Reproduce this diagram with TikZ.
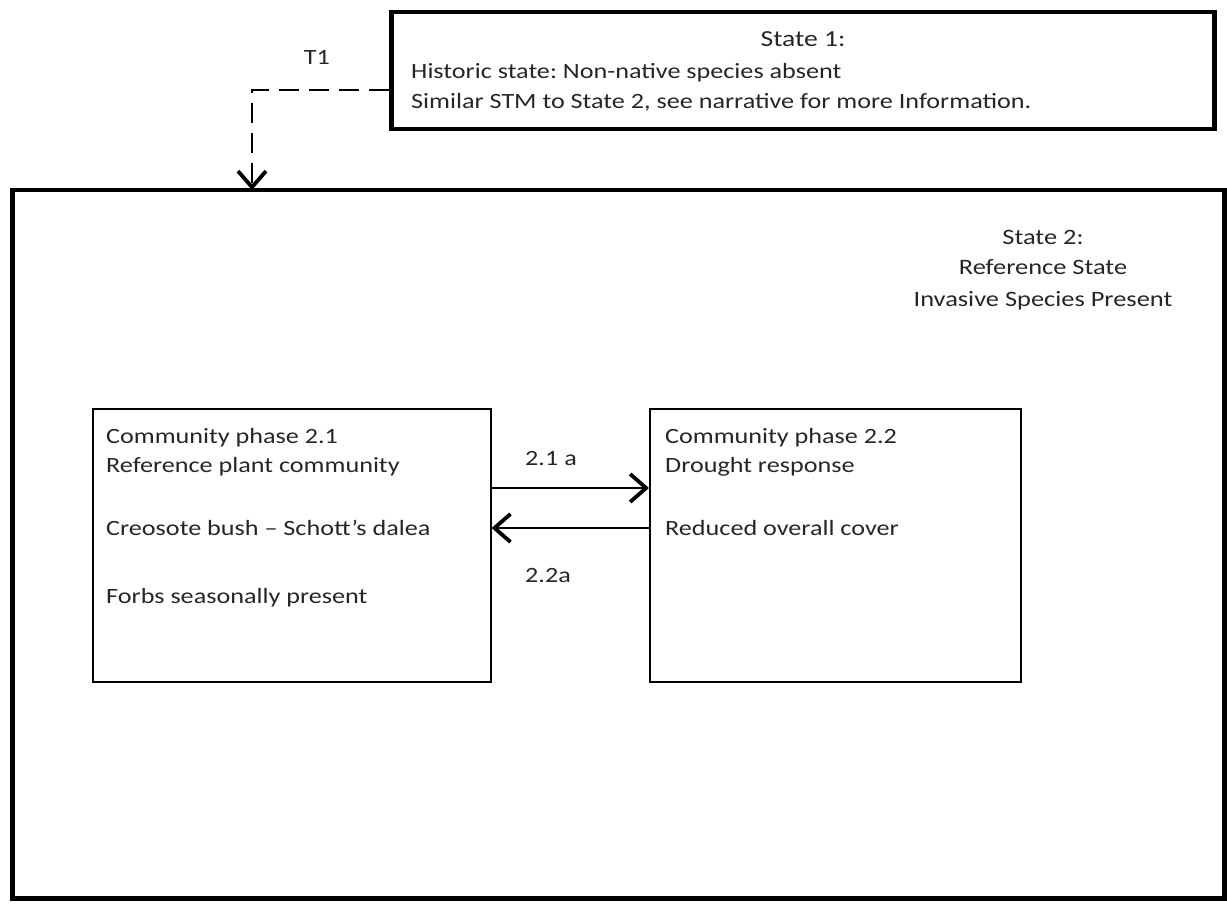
\documentclass[tikz,border=0pt]{standalone}
\usepackage{fontspec}
\setmainfont[FakeStretch=1.2]{Carlito}
\usetikzlibrary{arrows.meta}
\frenchspacing
\begin{document}
\begin{tikzpicture}[x=1pt,y=-1pt,
  txt/.style={inner sep=0pt,anchor=base west,font=\fontsize{21.8}{26}\selectfont,text=black!85},
  ctxt/.style={inner sep=0pt,anchor=base,font=\fontsize{21.8}{26}\selectfont,text=black!85},
  bigtxt/.style={ctxt,font=\fontsize{22}{26}\selectfont},
  statebox/.style={draw,line width=4.5pt,inner sep=0pt,anchor=north west},
  phasebox/.style={draw,line width=1.6pt,inner sep=0pt,anchor=north west},
  tip/.style={-{Straight Barb[length=16pt,width=28pt,line width=3.8pt]}},
  conn/.style={line width=1.9pt,tip},
]
\useasboundingbox (0,0) rectangle (1227,904);
% State 1
\node[statebox,minimum width=823pt,minimum height=117pt] (s1) at (389,10) {};
\node[bigtxt,font=\fontsize{23}{27}\selectfont] (s1t) at (803,47) {State 1:};
\node[txt] (s1a) at (411,79) {Historic state: Non-native species absent};
\node[txt] (s1b) at (411,109) {Similar STM to State 2, see narrative for more Information.};
% State 2
\node[statebox,minimum width=1212pt,minimum height=708pt] (s2) at (10,188) {};
\node[bigtxt] (s2a) at (1043,245) {State 2:};
\node[bigtxt] (s2b) at (1043,275) {Reference State};
\node[bigtxt] (s2c) at (1043,306) {Invasive Species Present};
% T1
\coordinate (bend) at (252,90);
\node[ctxt] (t1) at (317,65) {T1};
\draw[line width=1.8pt,dash pattern=on 20pt off 10pt,tip] (s1.west |- bend) -- (bend) -- ([yshift=-2pt]bend |- s2.north);
% phase boxes
\node[phasebox,minimum width=398pt,minimum height=273pt] (p1) at (92,408) {};
\node[phasebox,minimum width=371pt,minimum height=273pt] (p2) at (649,408) {};
\node[txt] (p1a) at (106,443) {Community phase 2.1};
\node[txt] (p1b) at (106,472) {Reference plant community};
\node[txt] (p1c) at (106,535) {Creosote bush -- Schott’s dalea};
\node[txt] (p1d) at (106,603) {Forbs seasonally present};
\node[txt] (p2a) at (665,443) {Community phase 2.2};
\node[txt] (p2b) at (665,472) {Drought response};
\node[txt] (p2c) at (665,535) {Reduced overall cover};
% transitions
\coordinate (ya) at (0,488);
\coordinate (yb) at (0,528);
\draw[conn] (p1.east |- ya) -- (p2.west |- ya);
\draw[conn] (p2.west |- yb) -- (p1.east |- yb);
\node[ctxt] (l1) at (551,465) {2.1 a};
\node[ctxt] (l2) at (548,582) {2.2a};
\end{tikzpicture}
\end{document}
